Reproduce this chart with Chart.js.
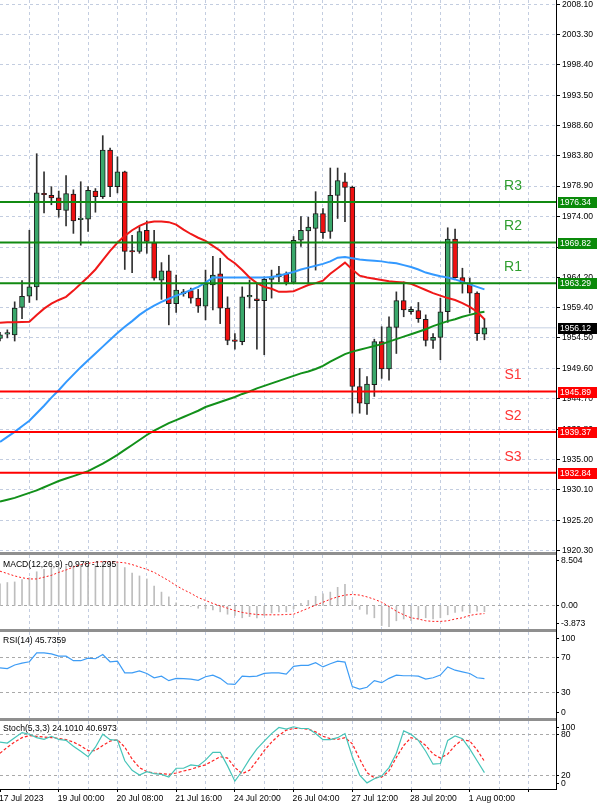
<!DOCTYPE html>
<html><head><meta charset="utf-8">
<script src="https://cdn.jsdelivr.net/npm/chart.js@4.4.1/dist/chart.umd.min.js"></script>
<style>
html,body{margin:0;padding:0;background:#fff;}
body{width:600px;height:806px;position:relative;overflow:hidden;}
canvas{position:absolute;left:0;}
.sep{position:absolute;left:0;width:556px;height:3px;background:#8f8f8f;}
</style></head><body>
<canvas id="cMain" style="top:0" width="600" height="558"></canvas>
<div class="sep" style="top:552px"></div>
<canvas id="cMacd" style="top:555px" width="600" height="74"></canvas>
<div class="sep" style="top:629px"></div>
<canvas id="cRsi" style="top:632px" width="600" height="86"></canvas>
<div class="sep" style="top:718px"></div>
<canvas id="cSto" style="top:721px" width="600" height="85"></canvas>
<div style="position:absolute;left:556px;top:0;width:1px;height:790px;background:#000"></div>
<script>
// ---------- DATA ----------
const xLabels = ['17 Jul 2023','19 Jul 00:00','20 Jul 08:00','21 Jul 16:00','24 Jul 20:00','26 Jul 04:00','27 Jul 12:00','28 Jul 20:00','1 Aug 00:00'];
const priceTickLabels = ['2008.10','2003.30','1998.40','1993.50','1988.60','1983.80','1978.90','1974.00','1969.10','1964.20','1959.40','1954.50','1949.60','1944.70','1939.80','1935.00','1930.10','1925.20','1920.30'];

const opens = [1954.4,1955.1,1955.0,1959.4,1961.2,1962.7,1977.7,1977.4,1977.0,1975.0,
 1977.6,1973.5,1973.6,1978.1,1977.2,1984.7,1978.8,1981.2,1968.45,1968.4,
 1971.8,1969.8,1963.8,1965.3,1960.0,1961.6,1962.1,1960.9,1959.6,1963.0,
 1964.8,1959.3,1954.1,1953.9,1961.1,1960.8,1960.5,1963.9,1964.3,1964.8,
 1963.4,1970.2,1971.7,1972.1,1974.5,1971.6,1977.4,1979.6,1978.7,1946.7,
 1943.9,1947.0,1953.9,1949.5,1956.2,1960.5,1958.7,1958.9,1957.5,1954.1,
 1954.6,1958.7,1970.4,1964.2,1963.3,1961.7,1955.1];
const highs = [1955.4,1955.8,1960.3,1963.7,1971.8,1984.1,1981.2,1978.8,1978.1,1980.6,
 1978.3,1979.6,1978.8,1978.5,1987.0,1985.0,1983.6,1981.3,1971.0,1972.4,
 1973.3,1971.8,1966.6,1967.8,1964.6,1962.3,1962.5,1962.3,1965.4,1967.6,
 1967.3,1961.1,1955.2,1962.7,1963.8,1963.2,1964.3,1965.4,1966.0,1965.1,
 1970.8,1974.0,1973.9,1978.0,1975.3,1981.8,1981.8,1981.0,1978.9,1949.6,
 1948.3,1954.3,1956.3,1957.9,1961.9,1963.5,1959.5,1960.2,1958.2,1955.2,
 1960.9,1972.2,1972.0,1965.7,1964.1,1961.9,1957.6];
const lows = [1954.0,1954.5,1954.0,1957.6,1960.2,1960.6,1974.6,1975.9,1973.9,1972.5,
 1971.3,1969.4,1971.6,1974.7,1976.9,1977.2,1977.8,1965.5,1965.0,1968.1,
 1968.1,1963.8,1960.7,1956.6,1958.6,1961.2,1960.1,1958.6,1957.4,1959.0,
 1956.8,1953.4,1952.7,1953.4,1959.3,1952.7,1951.8,1960.9,1963.5,1963.0,
 1963.2,1969.2,1963.3,1965.4,1970.5,1970.5,1973.7,1973.2,1942.4,1942.4,
 1942.2,1945.1,1948.0,1947.7,1952.0,1957.9,1958.3,1957.0,1953.2,1952.8,
 1951.0,1957.0,1964.1,1961.7,1958.5,1954.1,1954.2];
const closes = [1955.0,1955.2,1959.3,1961.2,1962.7,1977.8,1977.5,1977.0,1975.1,1977.7,
 1973.3,1973.6,1978.2,1977.2,1984.7,1978.8,1981.2,1968.4,1968.3,1971.6,
 1970.0,1964.1,1965.3,1960.0,1962.2,1961.9,1960.9,1959.6,1963.2,1964.6,
 1959.3,1954.1,1953.95,1961.1,1961.2,1960.5,1963.9,1964.3,1964.8,1963.4,
 1970.2,1971.8,1972.3,1974.5,1971.4,1977.4,1979.8,1978.7,1946.7,1944.0,
 1947.1,1953.9,1949.5,1956.3,1960.5,1959.0,1959.1,1957.6,1954.1,1954.6,
 1958.7,1970.4,1964.2,1963.3,1961.7,1955.2,1956.12];

const maRed = [1956.95,1957.0,1957.0,1957.05,1957.1,1958.2,1959.2,1960.0,1960.6,1961.1,
 1962.1,1963.2,1964.3,1965.5,1967.0,1968.5,1969.8,1970.9,1971.8,1972.5,
 1973.0,1973.2,1973.2,1973.1,1972.7,1971.9,1971.2,1970.6,1970.1,1969.3,
 1968.5,1967.3,1966.5,1965.4,1964.2,1963.3,1962.7,1962.4,1961.9,1961.9,
 1962.0,1962.5,1963.0,1963.3,1963.7,1964.8,1965.7,1966.6,1965.5,1964.5,
 1964.2,1964.0,1963.8,1963.6,1963.5,1963.4,1963.2,1962.7,1962.2,1961.7,
 1961.3,1960.9,1960.6,1960.1,1959.5,1958.7,1957.5];
const maBlue = [1937.8,1938.6,1939.4,1940.3,1941.2,1942.4,1943.6,1944.9,1946.1,1947.4,
 1948.6,1949.8,1950.9,1952.0,1953.1,1954.2,1955.3,1956.3,1957.2,1958.2,
 1959.0,1959.7,1960.3,1960.8,1961.3,1961.7,1962.2,1962.7,1963.4,1964.2,
 1964.2,1964.2,1964.2,1964.2,1964.2,1964.2,1964.2,1964.3,1964.5,1964.8,
 1965.1,1965.5,1965.8,1966.1,1966.4,1966.8,1967.4,1967.5,1967.3,1967.1,
 1967.0,1966.9,1966.8,1966.6,1966.5,1966.2,1965.9,1965.5,1965.0,1964.7,
 1964.4,1964.2,1963.9,1963.5,1963.1,1962.7,1962.3];
const maGreen = [1928.2,1928.5,1928.8,1929.2,1929.6,1930.0,1930.5,1931.0,1931.5,1931.9,
 1932.3,1932.7,1933.1,1933.7,1934.3,1935.0,1935.7,1936.5,1937.3,1938.1,
 1938.9,1939.6,1940.2,1940.8,1941.3,1941.8,1942.3,1942.8,1943.4,1943.8,
 1944.2,1944.6,1945.0,1945.5,1945.9,1946.4,1946.8,1947.2,1947.6,1948.0,
 1948.4,1948.8,1949.1,1949.5,1950.0,1950.7,1951.3,1951.9,1952.3,1952.6,
 1952.9,1953.2,1953.5,1953.9,1954.3,1954.7,1955.1,1955.5,1955.9,1956.4,
 1956.8,1957.2,1957.5,1957.9,1958.2,1958.5,1958.7];

const levelNames = ['R3','R2','R1','S1','S2','S3'];
const levelValues = [1976.34,1969.82,1963.29,1945.89,1939.37,1932.84];
const lastPrice = 1956.12;

const macdTitle = 'MACD(12,26,9) -0.978 -1.295';
const macdMain = [3.7,3.9,4.0,4.4,4.7,5.7,6.1,6.4,6.4,6.7,
 6.7,6.8,6.8,6.7,7.2,7.3,7.1,6.4,5.5,5.0,
 4.5,3.3,2.3,1.5,0.5,0.1,-0.1,-0.4,-0.5,-0.7,
 -1.0,-1.4,-1.6,-2.0,-1.8,-2.0,-1.6,-1.2,-1.0,-1.0,
 -0.5,0.4,0.9,1.6,2.0,2.3,3.1,3.6,0.9,-0.6,
 -1.4,-2.0,-3.3,-3.5,-2.5,-2.2,-2.5,-2.2,-2.0,-2.2,
 -2.0,-1.5,-1.1,-0.9,-1.2,-0.9,-0.978];
const macdSignal = [5.8,5.4,5.0,4.7,4.5,4.5,4.8,5.1,5.6,6.0,
 6.5,6.9,7.1,7.3,7.4,7.4,7.3,7.2,6.9,6.5,
 6.1,5.6,4.9,4.2,3.4,2.7,2.1,1.4,0.9,0.4,
 0.0,-0.4,-0.8,-1.1,-1.3,-1.45,-1.5,-1.5,-1.5,-1.45,
 -1.4,-0.9,-0.4,0.1,0.6,1.1,1.5,1.8,1.9,1.8,
 1.5,1.1,0.6,-0.1,-0.9,-1.5,-2.0,-2.2,-2.5,-2.6,
 -2.6,-2.5,-2.2,-2.0,-1.6,-1.4,-1.295];
const macdTickLabels = ['8.504','0.00','-3.873'];
const macdTickAt = [7.6, 0, -3.0];

const rsiTitle = 'RSI(14) 45.7359';
const rsi = [58.2,57.4,61.6,63.9,65.4,75.7,75.7,74.6,71.9,71.9,
 66.6,66.6,69.6,68.9,73.8,65.4,66.2,52.5,52.5,54.8,
 51.8,46.8,48.7,43.4,46.1,45.7,45.3,43.8,48.0,49.9,
 46.1,39.6,39.2,48.7,48.0,48.7,51.8,52.5,52.5,51.0,
 60.1,61.3,61.3,64.3,59.4,63.1,66.2,65.0,36.5,33.5,
 35.8,43.4,41.1,46.1,49.9,49.1,49.1,48.7,45.3,46.8,
 49.9,59.4,55.6,53.7,51.8,46.8,45.7];
const rsiTickLabels = ['100','70','30','0'];
const rsiTickAt = [92.7, 70, 30, 6.6];

const stoTitle = 'Stoch(5,3,3) 24.1010 40.6973';
const stoMain = [69,67.5,75.5,83,80.5,75.5,73,77.5,73,71.5,
 63,55.5,47.5,61.5,80.5,72.5,71.5,41.5,27.5,20.5,
 25.5,22.5,21.5,17.5,30.5,30.5,35.5,34,42.5,54,
 54,34,11.5,26.5,44,59,70.5,81.5,90.5,88,
 91.5,89,89,81.5,72.5,72.5,75.5,81.5,47.5,20.5,
 9,15,19,31.5,52.5,85.5,80.5,71.5,55.5,36.5,
 37.5,71.5,78,74,59,41.5,24.1];
const stoSignal = [52.5,61.5,69,75.5,78.5,77.5,76.5,75.5,74.5,72.5,
 69,63.5,56.5,56.5,64,70.5,72.5,61.5,44,31.5,
 25.5,23.5,22.5,21.5,23.5,26.5,29,32.5,35.5,41.5,
 47.5,45.5,31.5,22.5,27.5,41.5,56.5,69,79,86.5,
 89,89,88,84,77.5,74,73,75.5,66.5,44,
 24,16.5,17.5,26.5,46.5,64,75.5,72.5,64,51.5,
 45.5,51.5,64,72.5,70.5,57.5,40.7];
const stoTickLabels = ['100','80','20','0'];
const stoTickAt = [90, 80, 20, 8.4];

// ---------- STYLE / LAYOUT ----------
const X_MAX = 75.75, GRID_STEP = 4, LABEL_STEP = 8, LEVEL_TEXT_BAR = 69.9;
const FAM = "'Liberation Sans', Arial, sans-serif";
const FONT = {family: FAM, size: 8.6};
const FONT_CSS = '8.6px ' + FAM;
const GRID = '#c3cde0';
const GRID_I = '#a9a9a9';
const CLEAR = 'rgba(0,0,0,0)';
const BULL = '#3aa86b', BEAR = '#f01010';

const pts = arr => arr.map((v, i) => ({x: i, y: v}));

function xScale(withLabels, fitHeight) {
  return {
    type: 'linear', min: 0, max: X_MAX, offset: false, bounds: 'data',
    afterBuildTicks: s => { const t = []; for (let v = 0; v <= X_MAX; v += GRID_STEP) t.push({value: v}); s.ticks = t; },
    ticks: {display: withLabels, autoSkip: false, maxRotation: 0, minRotation: 0, align: 'start', padding: 1,
      labelOffset: -1, color: '#000', font: FONT,
      callback: v => (v % LABEL_STEP === 0 && xLabels[v / LABEL_STEP]) ? xLabels[v / LABEL_STEP] : ''},
    grid: {offset: false, lineWidth: 1, drawTicks: withLabels, tickLength: 3,
      color: c => (c.tick && c.tick.value === 0) ? CLEAR : GRID,
      tickColor: c => (c.tick && c.tick.value % LABEL_STEP === 0) ? '#000' : CLEAR},
    border: {display: withLabels, color: '#000', width: 1, dash: [3, 3]},
    afterFit: s => { s.height = fitHeight; s.paddingLeft = 0; s.paddingRight = 0; }
  };
}
function yScaleInd(min, max, at, labels, gridIdx) {
  return {
    type: 'linear', position: 'right', min, max, bounds: 'data',
    afterBuildTicks: s => { s.ticks = at.map(v => ({value: v})); },
    ticks: {autoSkip: false, padding: 2, color: '#000', font: FONT, callback: (v, i) => labels[i]},
    grid: {lineWidth: 1, drawTicks: true, tickLength: 3, tickColor: '#000',
      color: c => gridIdx.includes(c.index) ? GRID_I : CLEAR},
    border: {display: false, dash: [3, 3]},
    afterFit: s => { s.width = 44; s.paddingTop = 0; s.paddingBottom = 0; }
  };
}
const baseOpts = scales => ({
  responsive: false, animation: false, events: [],
  layout: {padding: 0},
  plugins: {legend: {display: false}, tooltip: {enabled: false}},
  scales
});
function titlePlugin(text, y) {
  return {id: 'title' + y, afterDraw(c) {
    const ctx = c.ctx; ctx.save(); ctx.font = FONT_CSS; ctx.fillStyle = '#000';
    ctx.textBaseline = 'middle'; ctx.textAlign = 'left'; ctx.fillText(text, 3, y); ctx.restore();
  }};
}
const lineDs = (data, color, width, order, dash) => ({type: 'line', data: pts(data), borderColor: color,
  borderWidth: width, pointRadius: 0, tension: 0, fill: false, order, borderDash: dash || []});

// ---------- MAIN ----------
const levelDs = levelValues.map((v, i) => ({
  type: 'line', data: [{x: 0, y: v}, {x: X_MAX, y: v}], borderColor: levelNames[i][0] === 'R' ? '#118a11' : '#ff0000',
  borderWidth: 2, pointRadius: 0, order: 5
}));
const mainDeco = {
  id: 'mainDeco',
  afterDraw(chart) {
    const {ctx, scales: {x, y}} = chart;
    ctx.save();
    ctx.font = '14px ' + FAM; ctx.textAlign = 'center'; ctx.textBaseline = 'middle';
    levelNames.forEach((n, i) => {
      ctx.fillStyle = n[0] === 'R' ? '#2f9e2f' : '#ff3333';
      ctx.fillText(n, x.getPixelForValue(LEVEL_TEXT_BAR), y.getPixelForValue(levelValues[i]) - 16);
    });
    ctx.font = FONT_CSS; ctx.textAlign = 'left';
    const boxes = levelValues.map((v, i) => ({v, c: levelNames[i][0] === 'R' ? '#0a8a0a' : '#ff0000'}))
      .concat([{v: lastPrice, c: '#000'}]);
    boxes.forEach(b => {
      const py = Math.round(y.getPixelForValue(b.v));
      ctx.fillStyle = b.c; ctx.fillRect(558, py - 5, 39, 11);
      ctx.fillStyle = '#fff'; ctx.fillText(b.v.toFixed(2), 560, py + 0.5);
    });
    ctx.restore();
  }
};
new Chart(document.getElementById('cMain'), {
  type: 'line',
  data: {datasets: [
    {type: 'line', data: [{x: 0, y: lastPrice}, {x: X_MAX, y: lastPrice}], borderColor: '#c6d0e2', borderWidth: 1, pointRadius: 0, order: 60},
    {type: 'bar', data: lows.map((l, i) => ({x: i, y: [l, highs[i]]})), backgroundColor: '#303030',
      barThickness: 1, grouped: false, order: 50},
    {type: 'bar', data: opens.map((o, i) => ({x: i, y: [o, closes[i]]})),
      backgroundColor: opens.map((o, i) => closes[i] >= o ? BULL : BEAR),
      borderColor: '#1c1c1c', borderWidth: 1, borderSkipped: false, barThickness: 5, grouped: false,
      minBarLength: 1.5, order: 40},
    lineDs(maGreen, '#12901a', 2, 22),
    lineDs(maBlue, '#3399ff', 2, 21),
    lineDs(maRed, '#f01818', 2, 20),
    ...levelDs
  ]},
  options: baseOpts({
    x: xScale(false, 6),
    y: {type: 'linear', position: 'right', min: 1920.10, max: 2008.80, bounds: 'data',
      afterBuildTicks: s => { s.ticks = priceTickLabels.map(t => ({value: parseFloat(t)})); },
      ticks: {autoSkip: false, padding: 2, color: '#000', font: FONT, callback: (v, i) => priceTickLabels[i]},
      grid: {color: GRID, tickColor: '#000', tickLength: 4, lineWidth: 1},
      border: {display: false, dash: [3, 3]},
      afterFit: s => { s.width = 44; s.paddingTop = 0; s.paddingBottom = 0; }
    }
  }),
  plugins: [mainDeco]
});

// ---------- MACD ----------
new Chart(document.getElementById('cMacd'), {
  type: 'line',
  data: {datasets: [
    {type: 'bar', data: pts(macdMain), backgroundColor: '#bdbdbd', barThickness: 1, grouped: false, order: 2},
    lineDs(macdSignal, '#ff1a1a', 1, 1, [2, 2])
  ]},
  options: baseOpts({x: xScale(false, 0), y: yScaleInd(-3.873, 8.504, macdTickAt, macdTickLabels, [1])}),
  plugins: [titlePlugin(macdTitle, 10)]
});

// ---------- RSI ----------
new Chart(document.getElementById('cRsi'), {
  type: 'line',
  data: {datasets: [lineDs(rsi, '#3d9cf5', 1.2, 1)]},
  options: baseOpts({x: xScale(false, 0), y: yScaleInd(0, 100, rsiTickAt, rsiTickLabels, [1, 2])}),
  plugins: [titlePlugin(rsiTitle, 9)]
});

// ---------- STOCH ----------
new Chart(document.getElementById('cSto'), {
  type: 'line',
  data: {datasets: [
    lineDs(stoMain, '#45c4b8', 1.2, 1),
    lineDs(stoSignal, '#ff2424', 1.2, 2, [3, 2])
  ]},
  options: baseOpts({x: xScale(true, 17), y: yScaleInd(0, 100, stoTickAt, stoTickLabels, [1, 2])}),
  plugins: [titlePlugin(stoTitle, 8)]
});
</script>
</body></html>
